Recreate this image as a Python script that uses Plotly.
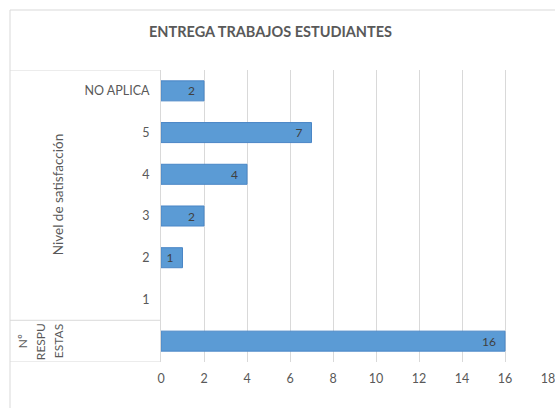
import plotly.graph_objects as go

categories = ["Nº RESPUESTAS", "1", "2", "3", "4", "5", "NO APLICA"]
tick_labels = ["", "1", "2", "3", "4", "5", "NO APLICA"]
values = [16, None, 1, 2, 4, 7, 2]
group_label = "Nivel de satisfacción"
outer_label_lines = ["Nº", "RESPU", "ESTAS"]
title = "ENTREGA TRABAJOS ESTUDIANTES"
x_ticks = list(range(0, 19, 2))

W, H = 555, 408
L, R, T, B = 161, 7, 70, 46
pw, ph = W - L - R, H - T - B

def px_x(x):
    return (x - L) / pw

def px_y(y):
    return (H - B - y) / ph

txt = "#595959"
line_c = "#D9D9D9"
FONT = "Lato"

fig = go.Figure(go.Bar(
    y=list(range(len(categories))),
    x=values,
    orientation="h",
    width=0.48,
    marker=dict(color="#5B9BD5", line=dict(color="#4A86C6", width=1)),
    text=[("" if v is None else str(v) + "\u00a0\u00a0") for v in values],
    textposition="inside",
    insidetextanchor="end",
    textangle=0,
    constraintext="none",
    textfont=dict(color="#404040", size=12, family=FONT),
    hoverinfo="skip",
))

shapes = [
    dict(type="rect", xref="paper", yref="paper", x0=px_x(10), x1=px_x(570),
         y0=px_y(420), y1=px_y(10), line=dict(color=line_c, width=1)),
    dict(type="line", xref="paper", yref="y", x0=px_x(10), x1=0, y0=6.5, y1=6.5,
         line=dict(color=line_c, width=1)),
    dict(type="line", xref="paper", yref="y", x0=px_x(10), x1=0, y0=0.5, y1=0.5,
         line=dict(color=line_c, width=1)),
    dict(type="line", xref="paper", yref="y", x0=px_x(10), x1=0, y0=-0.5, y1=-0.5,
         line=dict(color=line_c, width=1)),
]

annotations = [
    dict(text="<b>%s</b>" % title, xref="paper", yref="paper", x=px_x(270), y=px_y(31),
         showarrow=False, font=dict(size=14.5, color=txt, family=FONT),
         xanchor="center", yanchor="middle"),
    dict(text=group_label, xref="paper", yref="y", x=px_x(58), y=3.5, textangle=-90,
         showarrow=False, font=dict(size=13.5, color=txt, family=FONT),
         xanchor="center", yanchor="middle"),
]
for i, line in enumerate(outer_label_lines):
    annotations.append(dict(text=line, xref="paper", yref="y", x=px_x(22 + 18 * i), y=0,
                            textangle=-90, showarrow=False,
                            font=dict(size=12, color=txt, family=FONT),
                            xanchor="center", yanchor="middle"))

fig.update_layout(
    width=W, height=H,
    margin=dict(l=L, r=R, t=T, b=B, autoexpand=False),
    paper_bgcolor="white", plot_bgcolor="white",
    showlegend=False,
    shapes=shapes,
    annotations=annotations,
    font=dict(family=FONT, color=txt, size=12),
    xaxis=dict(range=[0, 18], tickvals=x_ticks, showgrid=True, gridcolor=line_c, gridwidth=1,
               zeroline=False, showline=False, ticks="", ticklabelstandoff=7,
               ticklabeloverflow="allow", automargin=False,
               tickfont=dict(size=12.5, color=txt, family=FONT), fixedrange=True),
    yaxis=dict(range=[-0.5, 6.5], tickvals=list(range(len(categories))), ticktext=tick_labels,
               showgrid=False, zeroline=False, showline=True, linecolor=line_c, linewidth=1,
               ticks="", ticklabelstandoff=8, automargin=False,
               tickfont=dict(size=12.5, color=txt, family=FONT), fixedrange=True),
)

fig.write_html("out.html")
